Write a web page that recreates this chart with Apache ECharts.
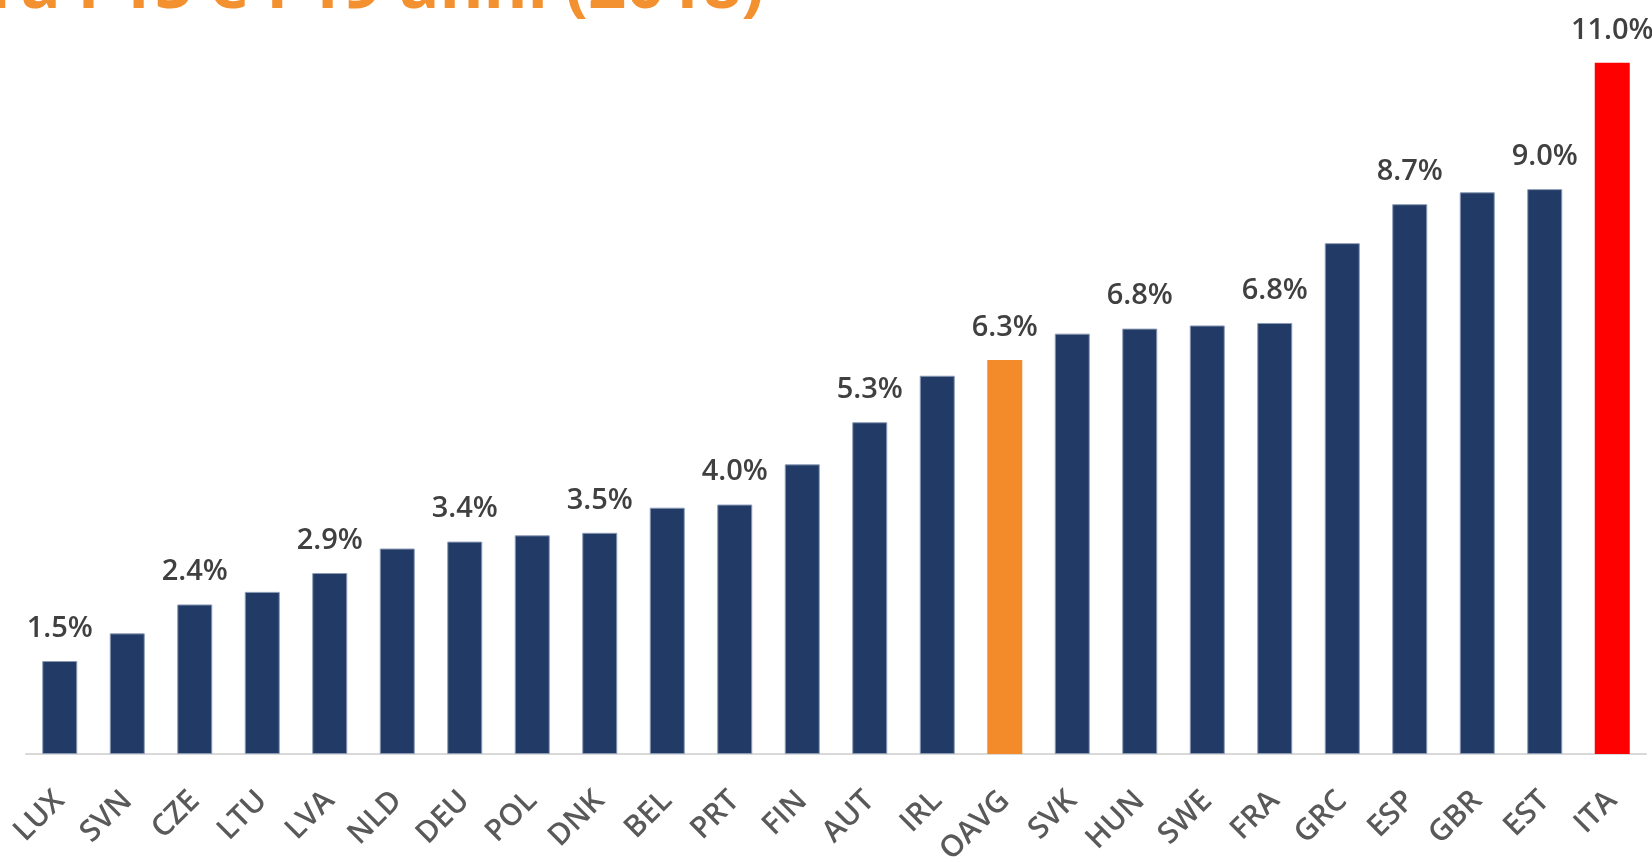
<!DOCTYPE html>
<html>
<head>
<meta charset="utf-8">
<script src="https://cdn.jsdelivr.net/npm/echarts@6/dist/echarts.min.js"></script>
<style>
  html, body { margin: 0; padding: 0; background: #fff; }
  #chart { width: 1652px; height: 862px; }
</style>
</head>
<body>
<div id="chart"></div>
<script>
// Paesi ordinati per valore
const countries = ['LUX', 'SVN', 'CZE', 'LTU', 'LVA', 'NLD', 'DEU', 'POL', 'DNK', 'BEL', 'PRT', 'FIN',
  'AUT', 'IRL', 'OAVG', 'SVK', 'HUN', 'SWE', 'FRA', 'GRC', 'ESP', 'GBR', 'EST', 'ITA']
// Quota (%)
const values = [1.48, 1.92, 2.38, 2.58, 2.88, 3.27, 3.38, 3.48, 3.52, 3.92, 3.97, 4.61,
  5.28, 6.02, 6.27, 6.69, 6.77, 6.82, 6.86, 8.13, 8.75, 8.94, 8.99, 11.0]
// Etichette mostrate solo su alcune barre
const labels = ['1.5%', null, '2.4%', null, '2.9%', null, '3.4%', null, '3.5%', null, '4.0%', null,
  '5.3%', null, '6.3%', null, '6.8%', null, '6.8%', null, '8.7%', null, '9.0%', '11.0%']

const titleText = 'tra i 15 e i 19 anni (2018)'

const NAVY = '#213a66'
const highlight = { OAVG: '#f48b2a', ITA: '#ff0000' }

const chart = echarts.init(document.getElementById('chart'))

const barData = values.map((v, i) => {
  const c = highlight[countries[i]]
  return {
    value: v,
    itemStyle: c
      ? { color: c, borderWidth: 0 }
      : { color: NAVY, borderColor: '#8a9ab5', borderWidth: 1 }
  }
})

chart.setOption({
  animation: false,
  backgroundColor: '#ffffff',
  // titolo tagliato in alto, si vede solo la parte bassa
  graphic: [
    {
      type: 'text',
      x: 764,
      y: 22,
      style: {
        text: titleText,
        align: 'right',
        verticalAlign: 'bottom',
        fill: '#f39130',
        font: 'bold 67px "Open Sans", sans-serif'
      }
    }
  ],
  grid: { left: 26, right: 6, top: 0, bottom: 108, outerBoundsMode: 'none' },
  xAxis: {
    type: 'category',
    data: countries,
    axisTick: { show: false },
    axisLine: { lineStyle: { color: '#d9d9d9', width: 2 } },
    axisLabel: {
      rotate: 45,
      interval: 0,
      margin: 42,
      color: '#595959',
      fontSize: 30,
      fontWeight: 600,
      fontFamily: 'Open Sans'
    }
  },
  yAxis: {
    type: 'value',
    min: 0,
    max: 12,
    show: false,
    splitLine: { show: false }
  },
  series: [
    {
      type: 'bar',
      data: barData,
      barWidth: 35,
      emphasis: { disabled: true },
      label: {
        show: true,
        position: 'top',
        distance: 18,
        color: '#404040',
        fontSize: 29,
        fontWeight: 600,
        fontFamily: 'Open Sans',
        formatter: p => labels[p.dataIndex] || ''
      }
    }
  ]
})
</script>
</body>
</html>
